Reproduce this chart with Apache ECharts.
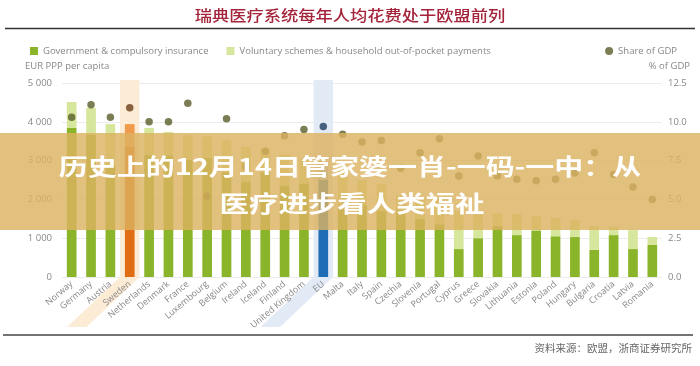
<!DOCTYPE html>
<html>
<head>
<meta charset="utf-8">
<script src="https://cdn.jsdelivr.net/npm/echarts@6/dist/echarts.min.js"></script>
<style>html,body{margin:0;padding:0;background:#fff}#c{width:700px;height:366px}</style>
</head>
<body>
<div id="c"></div>
<script>
const categories = ['Norway','Germany','Austria','Sweden','Netherlands','Denmark','France','Luxembourg','Belgium','Ireland','Iceland','Finland','United Kingdom','EU','Malta','Italy','Spain','Czechia','Slovenia','Portugal','Cyprus','Greece','Slovakia','Lithuania','Estonia','Poland','Hungary','Bulgaria','Croatia','Latvia','Romania'];
const government = [3840,3660,2890,3350,3150,3140,3030,3080,2700,2450,2700,2360,2410,2500,1750,1850,1700,1720,1500,1360,720,1000,1310,1080,1200,1050,1030,700,1080,720,825];
const voluntary  = [670,695,1050,590,690,600,620,540,820,900,600,790,640,400,1000,650,700,380,550,690,980,620,330,540,370,470,440,610,220,490,205];
const shareOfGDP = [10.3,11.1,10.3,10.9,10.0,10.0,11.2,5.2,10.2,7.1,8.1,9.1,9.5,9.7,9.2,8.7,8.8,7.0,8.0,8.9,6.5,7.8,6.5,6.3,6.2,6.3,6.7,8.0,6.6,5.8,5.0];
const leftTicks = [0,1000,2000,3000,4000,5000];
const rightTicks = [0,2.5,5,7.5,10,12.5];
const highlighted = ['Sweden','EU'];

const special = {
  'Sweden': {gov:'#e06c14', vol:'#f09a4c', dot:'#6b3e1c', band:'#fcebd5'},
  'EU': {gov:'#1f6db4', vol:'#a9c5e6', dot:'#1f3c5e', band:'#e2eaf6'}
};
const GOV = '#8ab42a', VOL = '#d6e69c', DOT = '#5a5c2a';

function styled(arr, key){
  return arr.map((v,i)=>{
    const s = special[categories[i]];
    return s ? {value:v, itemStyle:{color:s[key]}} : v;
  });
}
const fontFam = "'Open Sans', 'Noto Sans', sans-serif";
const chart = echarts.init(document.getElementById('c'));
chart.setOption({
  animation:false,
  backgroundColor:'#fff',
  grid:{left:62,right:38,top:83,bottom:89,containLabel:false},
  legend:[
    {left:25,top:41,icon:'rect',itemWidth:8,itemHeight:8,itemGap:18,
     data:['Government & compulsory insurance','Voluntary schemes & household out-of-pocket payments'],
     textStyle:{fontSize:9.5,color:'#888',fontFamily:fontFam}},
    {right:18,top:41,icon:'circle',itemWidth:8,itemHeight:8,
     data:['Share of GDP'],textStyle:{fontSize:9.5,color:'#888',fontFamily:fontFam}}
  ],
  xAxis:{type:'category',data:categories,
    axisLine:{show:false},axisTick:{show:false},
    axisLabel:{interval:0,rotate:40,fontSize:9,color:'#888',margin:6,fontFamily:fontFam}},
  yAxis:[
    {type:'value',min:leftTicks[0],max:leftTicks[leftTicks.length-1],interval:1000,
     axisLine:{show:false},axisTick:{show:false},
     splitLine:{lineStyle:{color:'#ececec'}},
     axisLabel:{fontSize:9.5,color:'#888',margin:10,fontFamily:fontFam,
       formatter:v=>v===0?'0':(v/1000)+' 000'}},
    {type:'value',min:rightTicks[0],max:rightTicks[rightTicks.length-1],interval:2.5,
     axisLine:{show:false},axisTick:{show:false},splitLine:{show:false},
     axisLabel:{fontSize:9.5,color:'#888',margin:6,fontFamily:fontFam,
       formatter:v=>v.toFixed(1)}}
  ],
  series:[
    {type:'custom',name:'band',z:0,silent:true,clip:false,
     data:highlighted.map(c=>[c,leftTicks[leftTicks.length-1]]),
     encode:{x:0,y:1},
     renderItem:(params,api)=>{
       const idx = api.value(0);
       const top = api.coord([idx, api.value(1)]);
       const bot = api.coord([idx, 0]);
       const w = api.size([1,0])[0];
       const drop = 50;
       const col = special[categories[idx]].band;
       return {type:'polygon',shape:{points:[
         [top[0]-w/2, top[1]-3],[top[0]+w/2, top[1]-3],
         [bot[0]+w/2, bot[1]],[bot[0]+w/2-drop-3, bot[1]+drop],
         [bot[0]-w/2-drop-3, bot[1]+drop],[bot[0]-w/2, bot[1]]]},
         style:{fill:col}};
     }},
    {type:'bar',name:'Government & compulsory insurance',stack:'a',barWidth:'50%',z:2,
     itemStyle:{color:GOV},data:styled(government,'gov')},
    {type:'bar',name:'Voluntary schemes & household out-of-pocket payments',stack:'a',barWidth:'50%',z:2,
     itemStyle:{color:VOL},data:styled(voluntary,'vol')},
    {type:'scatter',name:'Share of GDP',yAxisIndex:1,symbolSize:7.5,z:3,
     itemStyle:{color:DOT},data:styled(shareOfGDP,'dot')}
  ],
  graphic:[
    {type:'text',x:350,y:15,z:10,scaleX:1.15,
     style:{text:'瑞典医疗系统每年人均花费处于欧盟前列',x:0,y:0,textAlign:'center',textVerticalAlign:'middle',
       fontSize:15,fontWeight:500,fill:'#a4253b',fontFamily:"'Noto Sans CJK SC', sans-serif"}},
    {type:'line',z:10,shape:{x1:5,y1:28.5,x2:695,y2:28.5},style:{stroke:'#333',lineWidth:1.5}},
    {type:'text',x:25,y:66,z:10,style:{text:'EUR PPP per capita',textVerticalAlign:'middle',fontSize:9.5,fill:'#888',fontFamily:fontFam}},
    {type:'text',x:690,y:66,z:10,style:{text:'% of GDP',textAlign:'right',textVerticalAlign:'middle',fontSize:9.5,fill:'#888',fontFamily:fontFam}},
    {type:'line',z:10,shape:{x1:3,y1:335,x2:693,y2:335},style:{stroke:'#444',lineWidth:1.5}},
    {type:'text',x:692,y:348,z:10,style:{text:'资料来源：欧盟，浙商证券研究所',textAlign:'right',textVerticalAlign:'middle',fontSize:10.5,fill:'#666',fontFamily:"'Noto Sans CJK SC', sans-serif"}},
    {type:'rect',z:100,shape:{x:0,y:133,width:700,height:97},style:{fill:'rgba(220,178,96,0.82)'}},
    {type:'text',x:350,y:166,z:101,scaleX:1.26,
     style:{text:'历史上的12月14日管家婆一肖-一码-一中：从',x:0,y:0,textAlign:'center',textVerticalAlign:'middle',
       fontSize:23,fontWeight:'bold',fill:'#fff',fontFamily:"'Noto Sans CJK SC', sans-serif"}},
    {type:'text',x:352,y:203,z:101,scaleX:1.28,
     style:{text:'医疗进步看人类福祉',x:0,y:0,textAlign:'center',textVerticalAlign:'middle',
       fontSize:23,fontWeight:'bold',fill:'#fff',fontFamily:"'Noto Sans CJK SC', sans-serif"}}
  ]
});
</script>
</body>
</html>
